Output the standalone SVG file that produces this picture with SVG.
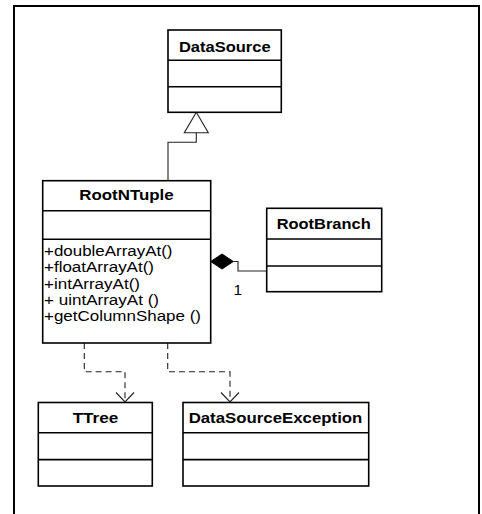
<svg xmlns="http://www.w3.org/2000/svg" width="482" height="514" viewBox="0 0 482 514">
  <style>
    .box { fill: #fff; stroke: #000; stroke-width: 1.6; }
    .div { stroke: #000; stroke-width: 1.6; }
    .title { font-family: "Liberation Sans", Arial, sans-serif; font-size: 15.5px; font-weight: bold; text-anchor: middle; fill: #000; }
    .op { font-family: "Liberation Sans", Arial, sans-serif; font-size: 15.5px; fill: #000; }
    .line { fill: none; stroke: #222; stroke-width: 1.1; }
    .dash { fill: none; stroke: #222; stroke-width: 1.1; stroke-dasharray: 6 4; }
    .head { fill: none; stroke: #222; stroke-width: 1.1; }
  </style>

  <!-- frame -->
  <rect x="14" y="6" width="465" height="530" fill="#fff" stroke="#000" stroke-width="2"/>

  <!-- connectors -->
  <g id="connectors">
    <!-- generalization RootNTuple -> DataSource -->
    <polyline class="line" points="168,180.7 168,142.3 196.3,142.3 196.3,132.7"/>
    <polygon points="196.3,112.3 184.3,132.7 208.3,132.7" fill="#fff" stroke="#222" stroke-width="1.1"/>
    <!-- composition RootNTuple <>- RootBranch -->
    <polyline class="line" points="233.3,261.5 238,261.5 238,271 266.7,271"/>
    <polygon points="210.7,261.5 222,254 233.3,261.5 222,269" fill="#000" stroke="#000" stroke-width="1"/>
    <text class="op" x="233.5" y="294.5">1</text>
    <!-- dependency RootNTuple -> TTree -->
    <polyline class="dash" points="84.3,343 84.3,371.7 125,371.7 125,401.5"/>
    <polyline class="head" points="116,392.5 125,402 134,392.5"/>
    <!-- dependency RootNTuple -> DataSourceException -->
    <polyline class="dash" points="167.7,343 167.7,371.7 230,371.7 230,401.5"/>
    <polyline class="head" points="221,392.5 230,402 239,392.5"/>
  </g>

  <g id="DataSource">
    <rect class="box" x="168" y="30" width="113.3" height="82.3"/>
    <line class="div" x1="168" y1="60.3" x2="281.3" y2="60.3"/>
    <line class="div" x1="168" y1="86.7" x2="281.3" y2="86.7"/>
    <text class="title" x="224.8" y="51.5" textLength="91.7" lengthAdjust="spacingAndGlyphs">DataSource</text>
  </g>

  <g id="RootNTuple">
    <rect class="box" x="42.7" y="180.7" width="168" height="162.3"/>
    <line class="div" x1="42.7" y1="210.7" x2="210.7" y2="210.7"/>
    <line class="div" x1="42.7" y1="239.3" x2="210.7" y2="239.3"/>
    <text class="title" x="126.5" y="200" textLength="94.4" lengthAdjust="spacingAndGlyphs">RootNTuple</text>
    <text class="op" x="44" y="255.7" textLength="128.5" lengthAdjust="spacingAndGlyphs">+doubleArrayAt()</text>
    <text class="op" x="44" y="272.1" textLength="110" lengthAdjust="spacingAndGlyphs">+floatArrayAt()</text>
    <text class="op" x="44" y="288.5" textLength="96" lengthAdjust="spacingAndGlyphs">+intArrayAt()</text>
    <text class="op" x="44" y="304.8" textLength="115" lengthAdjust="spacingAndGlyphs">+ uintArrayAt ()</text>
    <text class="op" x="44" y="321.1" textLength="157" lengthAdjust="spacingAndGlyphs">+getColumnShape ()</text>
  </g>

  <g id="RootBranch">
    <rect class="box" x="266.7" y="208.3" width="115" height="83.4"/>
    <line class="div" x1="266.7" y1="239" x2="381.7" y2="239"/>
    <line class="div" x1="266.7" y1="266" x2="381.7" y2="266"/>
    <text class="title" x="323.7" y="229" textLength="94" lengthAdjust="spacingAndGlyphs">RootBranch</text>
  </g>

  <g id="TTree">
    <rect class="box" x="38.3" y="402.5" width="114" height="83.5"/>
    <line class="div" x1="38.3" y1="432.8" x2="152.3" y2="432.8"/>
    <line class="div" x1="38.3" y1="459.6" x2="152.3" y2="459.6"/>
    <text class="title" x="95.5" y="423" textLength="45.7" lengthAdjust="spacingAndGlyphs">TTree</text>
  </g>

  <g id="DataSourceException">
    <rect class="box" x="183" y="402.5" width="185.7" height="83.5"/>
    <line class="div" x1="183" y1="432.8" x2="368.7" y2="432.8"/>
    <line class="div" x1="183" y1="459.6" x2="368.7" y2="459.6"/>
    <text class="title" x="275.5" y="423" textLength="173.7" lengthAdjust="spacingAndGlyphs">DataSourceException</text>
  </g>
</svg>
